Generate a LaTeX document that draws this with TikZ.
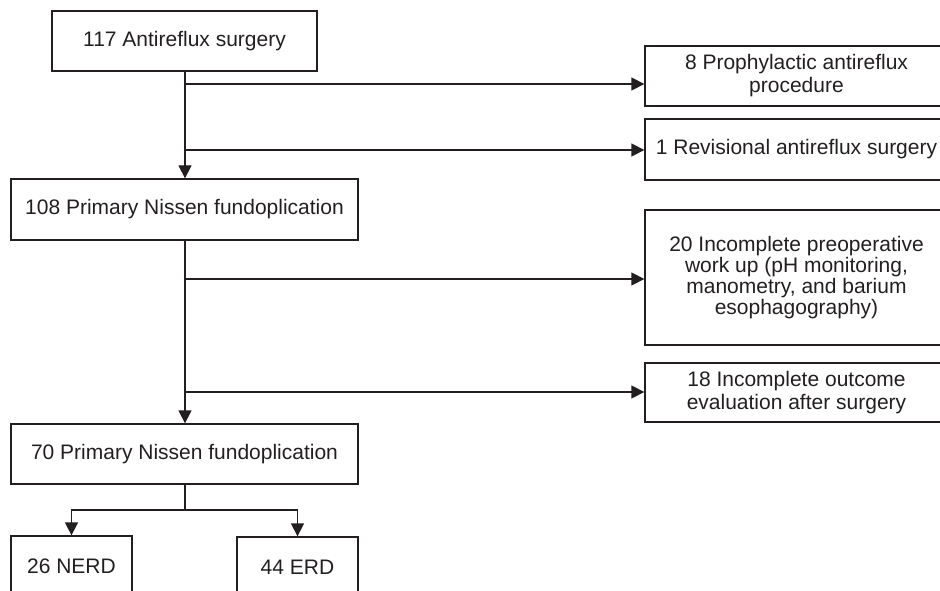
\documentclass[tikz,border=0pt]{standalone}
\usepackage{fontspec}
\setmainfont{Liberation Sans}
\usetikzlibrary{arrows.meta}
\definecolor{ink}{RGB}{35,31,32}
\begin{document}
\begin{tikzpicture}[x=1pt,y=-1pt,
  box/.style={draw=ink, line width=1.3pt, text=ink, rectangle, align=center, inner sep=0pt,
    font=\fontsize{21}{23}\selectfont},
  conn/.style={draw=ink, line width=1.3pt},
  arr/.style={conn, -{Triangle[length=13pt,width=13pt]}}]
\useasboundingbox (0,0) rectangle (940,591);
\clip (0,0) rectangle (940,591);
% main column
\node[box, minimum width=265pt, minimum height=60pt] (a) at (184.5,41) {117 Antireflux surgery};
\node[box, minimum width=347pt, minimum height=61pt] (b) at (184.5,209.5) {108 Primary Nissen fundoplication};
\node[box, minimum width=347pt, minimum height=60pt] (c) at (184.5,454) {70 Primary Nissen fundoplication};
\node[box, minimum width=121pt, minimum height=60pt] (d) at (71.5,566) {26 NERD};
\node[box, minimum width=121pt, minimum height=60pt] (e) at (297.5,567) {44 ERD};
% right column
\node[box, minimum width=303pt, minimum height=60pt] (r1) at (796.5,76) {8 Prophylactic antireflux\\procedure};
\node[box, minimum width=303pt, minimum height=61pt] (r2) at (796.5,149.5) {1 Revisional antireflux surgery};
\node[box, minimum width=303pt, minimum height=135pt, font=\fontsize{21}{21}\selectfont] (r3) at (796.5,277.5) {20 Incomplete preoperative\\work up (pH monitoring,\\manometry, and barium\\esophagography)};
\node[box, minimum width=303pt, minimum height=59pt] (r4) at (796.5,392.5) {18 Incomplete outcome\\evaluation after surgery};
% branch points
\coordinate (p1) at (185,84);
\coordinate (p2) at (185,150);
\coordinate (p3) at (185,279);
\coordinate (p4) at (185,392);
\coordinate (s) at (185,510);
% connectors
\draw[arr] (a.south -| p1) -- (b.north -| p1);
\draw[arr] (b.south -| p1) -- (c.north -| p1);
\draw[arr] (p1) -- (p1 -| r1.west);
\draw[arr] (p2) -- (p2 -| r2.west);
\draw[arr] (p3) -- (p3 -| r3.west);
\draw[arr] (p4) -- (p4 -| r4.west);
\draw[conn] (c.south -| s) -- (s);
\draw[arr] (s) -| (d.north);
\draw[arr] (s) -| (e.north);
\end{tikzpicture}
\end{document}
